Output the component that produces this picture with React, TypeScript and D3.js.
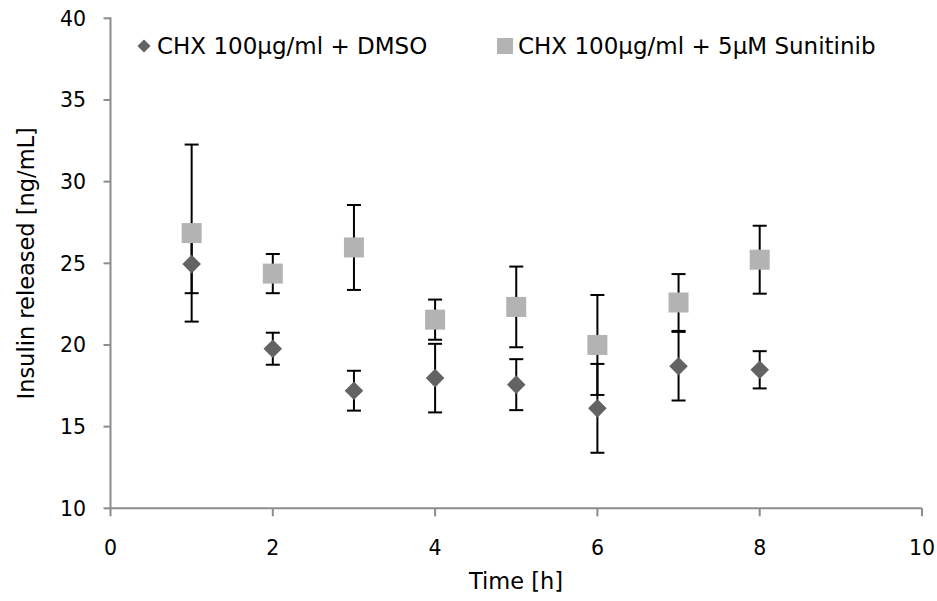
import React from "react";
import * as d3 from "d3";

const times = [1, 2, 3, 4, 5, 6, 7, 8];
const dmsoMean = [24.95, 19.77, 17.2, 17.97, 17.57, 16.12, 18.7, 18.48];
const dmsoErr = [1.78, 0.98, 1.22, 2.1, 1.56, 2.72, 2.1, 1.14];
const suniMean = [26.85, 24.37, 25.97, 21.55, 22.33, 20.0, 22.6, 25.22];
const suniErr = [5.42, 1.2, 2.6, 1.23, 2.47, 3.06, 1.74, 2.08];
const xTicks = [0, 2, 4, 6, 8, 10];
const yTicks = [10, 15, 20, 25, 30, 35, 40];
const seriesNames = ["CHX 100µg/ml + DMSO", "CHX 100µg/ml + 5µM Sunitinib"];

const W = 937, H = 601;
const FONT = "DejaVu Sans, Verdana, sans-serif";
const AXIS = "#8c8c8c";
const DIA = "#636363";
const SQ = "#b3b3b3";

export default function App() {
  const x = d3.scaleLinear().domain([0, 10]).range([110.5, 922]);
  const y = d3.scaleLinear().domain([10, 40]).range([508.3, 18.3]);
  const diamond = d3.symbol().type(d3.symbolDiamond2).size(220)();
  const sq = 20;
  const cap = 7;

  const errBars = (means: number[], errs: number[], key: string) =>
    times.map((t, i) => {
      const cx = x(t);
      const y0 = y(means[i] - errs[i]);
      const y1 = y(means[i] + errs[i]);
      return (
        <g key={key + i} stroke="#000" strokeWidth={2}>
          <line x1={cx} x2={cx} y1={y0} y2={y1} />
          <line x1={cx - cap} x2={cx + cap} y1={y0} y2={y0} />
          <line x1={cx - cap} x2={cx + cap} y1={y1} y2={y1} />
        </g>
      );
    });

  return (
    <svg width={W} height={H} style={{ position: "absolute", left: 0, top: 0, background: "#fff" }}>
      {/* axes */}
      <line x1={x(0)} x2={x(0)} y1={y(40) - 1} y2={y(10)} stroke={AXIS} strokeWidth={2} />
      <line x1={x(0) - 1} x2={x(10)} y1={y(10)} y2={y(10)} stroke={AXIS} strokeWidth={2} />
      {yTicks.map((v) => (
        <g key={"yt" + v}>
          <line x1={x(0) - 7} x2={x(0)} y1={y(v)} y2={y(v)} stroke={AXIS} strokeWidth={2} />
          <text x={86} y={y(v)} dy="0.36em" textAnchor="end" fontFamily={FONT} fontSize={20.5} fill="#000">
            {v}
          </text>
        </g>
      ))}
      {xTicks.map((v) => (
        <g key={"xt" + v}>
          <line x1={x(v)} x2={x(v)} y1={y(10)} y2={y(10) + 8} stroke={AXIS} strokeWidth={2} />
          <text x={x(v)} y={555} textAnchor="middle" fontFamily={FONT} fontSize={20.5} fill="#000">
            {v}
          </text>
        </g>
      ))}
      <text x={516} y={589} textAnchor="middle" fontFamily={FONT} fontSize={22.5} fill="#000">
        Time [h]
      </text>
      <text
        transform={`translate(34,${y(25)}) rotate(-90)`}
        textAnchor="middle"
        fontFamily={FONT}
        fontSize={22.5}
        fill="#000"
      >
        Insulin released [ng/mL]
      </text>

      {/* error bars */}
      {errBars(suniMean, suniErr, "se")}
      {errBars(dmsoMean, dmsoErr, "de")}

      {/* markers */}
      {times.map((t, i) => (
        <path key={"d" + i} d={diamond} transform={`translate(${x(t)},${y(dmsoMean[i])})`} fill={DIA} />
      ))}
      {times.map((t, i) => (
        <rect key={"s" + i} x={x(t) - sq / 2} y={y(suniMean[i]) - sq / 2} width={sq} height={sq} fill={SQ} />
      ))}

      {/* legend */}
      <path d={d3.symbol().type(d3.symbolDiamond2).size(110)()} transform="translate(144,46)" fill={DIA} />
      <text x={157} y={46} dy="0.36em" fontFamily={FONT} fontSize={23} fill="#000">
        {seriesNames[0]}
      </text>
      <rect x={497} y={38} width={16} height={16} fill={SQ} />
      <text x={518} y={46} dy="0.36em" fontFamily={FONT} fontSize={23} fill="#000">
        {seriesNames[1]}
      </text>
    </svg>
  );
}
